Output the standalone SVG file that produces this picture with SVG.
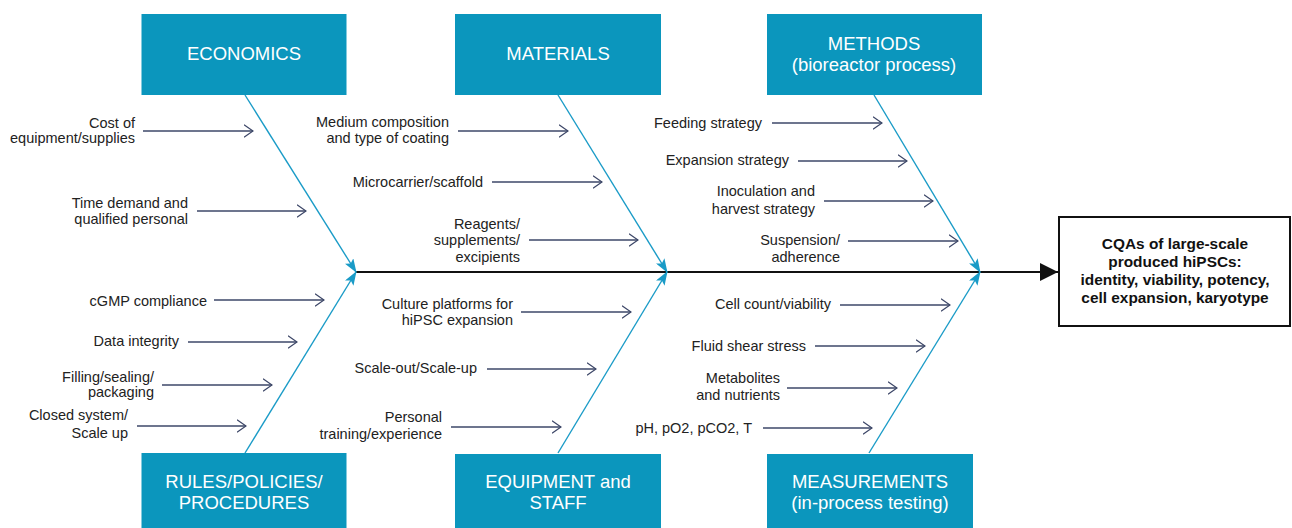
<svg xmlns="http://www.w3.org/2000/svg" width="1292" height="528" viewBox="0 0 1292 528">
  <defs>
    <style>
      .cat rect { fill: #0b96bd; }
      .cat text { fill: #ffffff; font-family: "Liberation Sans", Arial, sans-serif; font-size: 18.5px; text-anchor: middle; }
      .item text { fill: #222222; font-family: "Liberation Sans", Arial, sans-serif; font-size: 14.5px; text-anchor: end; }
      .bone { stroke: #1a9bc7; stroke-width: 1.4; fill: none; marker-end: url(#boneHead); }
      .sub { stroke: #3d4768; stroke-width: 1.3; fill: none; marker-end: url(#chevron); }
      .spine { stroke: #111111; stroke-width: 2.2; fill: none; marker-end: url(#spineHead); }
      .result rect { fill: #ffffff; stroke: #111111; stroke-width: 2; }
      .result text { fill: #111111; font-family: "Liberation Sans", Arial, sans-serif; font-size: 15.4px; font-weight: bold; text-anchor: middle; }
    </style>
    <marker id="boneHead" viewBox="0 0 14 10" refX="13" refY="5" markerWidth="14" markerHeight="10" markerUnits="userSpaceOnUse" orient="auto">
      <path d="M0,0 L14,5 L0,10 L3,5 Z" fill="#1a9bc7"/>
    </marker>
    <marker id="chevron" viewBox="0 0 10 14" refX="9.5" refY="7" markerWidth="10" markerHeight="14" markerUnits="userSpaceOnUse" orient="auto">
      <path d="M0.5,0.8 L9.5,7 L0.5,13.2" fill="none" stroke="#3d4768" stroke-width="1.3"/>
    </marker>
    <marker id="spineHead" viewBox="0 0 18 18" refX="18" refY="9" markerWidth="18" markerHeight="18" markerUnits="userSpaceOnUse" orient="auto">
      <path d="M0,0 L18,9 L0,18 Z" fill="#111111"/>
    </marker>
  </defs>

  <rect width="1292" height="528" fill="#ffffff"/>

  <!-- connectors: spine, category bones and cause arrows -->
  <g id="connectors">
    <line class="spine" x1="356" y1="272" x2="1058" y2="272"/>

    <line class="bone" x1="245" y1="95" x2="356" y2="272"/>
    <line class="bone" x1="558" y1="95" x2="667" y2="272"/>
    <line class="bone" x1="874" y1="95" x2="980" y2="272"/>
    <line class="bone" x1="245" y1="453" x2="356" y2="272"/>
    <line class="bone" x1="558" y1="453" x2="667" y2="272"/>
    <line class="bone" x1="869" y1="453" x2="980" y2="272"/>

    <!-- economics -->
    <line class="sub" x1="143" y1="131" x2="253" y2="131"/>
    <line class="sub" x1="197" y1="211" x2="306" y2="211"/>
    <!-- rules -->
    <line class="sub" x1="214" y1="300" x2="324" y2="300"/>
    <line class="sub" x1="188" y1="342" x2="297" y2="342"/>
    <line class="sub" x1="162" y1="385" x2="272" y2="385"/>
    <line class="sub" x1="137" y1="426" x2="246" y2="426"/>
    <!-- materials -->
    <line class="sub" x1="458" y1="131" x2="568" y2="131"/>
    <line class="sub" x1="492" y1="182" x2="602" y2="182"/>
    <line class="sub" x1="529" y1="240" x2="638" y2="240"/>
    <!-- equipment -->
    <line class="sub" x1="521" y1="312" x2="631" y2="312"/>
    <line class="sub" x1="487" y1="369" x2="596" y2="369"/>
    <line class="sub" x1="451" y1="427" x2="561" y2="427"/>
    <!-- methods -->
    <line class="sub" x1="772" y1="123" x2="882" y2="123"/>
    <line class="sub" x1="798" y1="161" x2="907" y2="161"/>
    <line class="sub" x1="824" y1="201" x2="933" y2="201"/>
    <line class="sub" x1="848" y1="241" x2="958" y2="241"/>
    <!-- measurements -->
    <line class="sub" x1="840" y1="305" x2="950" y2="305"/>
    <line class="sub" x1="815" y1="346" x2="925" y2="346"/>
    <line class="sub" x1="787" y1="388" x2="897" y2="388"/>
    <line class="sub" x1="763" y1="428" x2="872" y2="428"/>
  </g>

  <!-- category boxes -->
  <g id="economics" class="cat">
    <rect x="141.5" y="14" width="205" height="81"/>
    <text x="244" y="60">ECONOMICS</text>
  </g>
  <g id="materials" class="cat">
    <rect x="455" y="14" width="206" height="81"/>
    <text x="558" y="60">MATERIALS</text>
  </g>
  <g id="methods" class="cat">
    <rect x="767" y="14" width="215" height="81"/>
    <text x="874" y="50">METHODS</text>
    <text x="874" y="71">(bioreactor process)</text>
  </g>
  <g id="rules" class="cat">
    <rect x="141.5" y="453" width="205" height="80"/>
    <text x="244" y="488">RULES/POLICIES/</text>
    <text x="244" y="509">PROCEDURES</text>
  </g>
  <g id="equipment" class="cat">
    <rect x="455" y="454" width="206" height="80"/>
    <text x="558" y="488">EQUIPMENT and</text>
    <text x="558" y="509">STAFF</text>
  </g>
  <g id="measurements" class="cat">
    <rect x="767" y="454" width="206" height="80"/>
    <text x="870" y="488">MEASUREMENTS</text>
    <text x="870" y="509">(in-process testing)</text>
  </g>

  <!-- cause labels -->
  <g id="economics-causes" class="item">
    <text x="135" y="128">Cost of</text>
    <text x="135" y="143">equipment/supplies</text>
    <text x="188" y="208">Time demand and</text>
    <text x="188" y="224">qualified personal</text>
  </g>
  <g id="rules-causes" class="item">
    <text x="207" y="306">cGMP compliance</text>
    <text x="179" y="346">Data integrity</text>
    <text x="154" y="382">Filling/sealing/</text>
    <text x="154" y="397">packaging</text>
    <text x="128" y="420">Closed system/</text>
    <text x="128" y="438">Scale up</text>
  </g>
  <g id="materials-causes" class="item">
    <text x="449" y="127">Medium composition</text>
    <text x="449" y="143">and type of coating</text>
    <text x="483" y="187">Microcarrier/scaffold</text>
    <text x="520" y="229">Reagents/</text>
    <text x="520" y="245">supplements/</text>
    <text x="520" y="262">excipients</text>
  </g>
  <g id="equipment-causes" class="item">
    <text x="513" y="309">Culture platforms for</text>
    <text x="513" y="325">hiPSC expansion</text>
    <text x="477" y="373">Scale-out/Scale-up</text>
    <text x="442" y="422">Personal</text>
    <text x="442" y="439">training/experience</text>
  </g>
  <g id="methods-causes" class="item">
    <text x="762" y="128">Feeding strategy</text>
    <text x="789" y="165">Expansion strategy</text>
    <text x="815" y="196">Inoculation and</text>
    <text x="815" y="214">harvest strategy</text>
    <text x="840" y="245">Suspension/</text>
    <text x="840" y="262">adherence</text>
  </g>
  <g id="measurements-causes" class="item">
    <text x="831" y="309">Cell count/viability</text>
    <text x="806" y="351">Fluid shear stress</text>
    <text x="780" y="383">Metabolites</text>
    <text x="780" y="400">and nutrients</text>
    <text x="752" y="433">pH, pO2, pCO2, T</text>
  </g>

  <!-- effect box -->
  <g id="result" class="result">
    <rect x="1059" y="217" width="231" height="109"/>
    <text x="1175" y="249">CQAs of large-scale</text>
    <text x="1175" y="267">produced hiPSCs:</text>
    <text x="1175" y="285">identity, viability, potency,</text>
    <text x="1175" y="303">cell expansion, karyotype</text>
  </g>
</svg>
